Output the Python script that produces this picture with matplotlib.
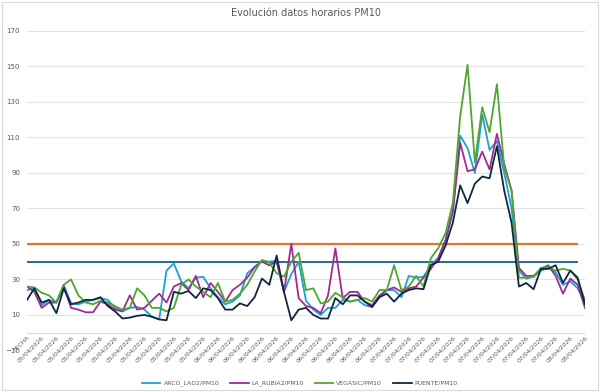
import numpy as np
import matplotlib.pyplot as plt
from matplotlib.patches import Rectangle

# valores horarios PM10
arco = [24, 25, 15.5, 18.5, 17, 27, 16.5, 16, 17.5, 18.5, 19.5, 18.5, 14, 12, 14, 14.5, 13, 9, 7.5, 35,
        39, 29, 25, 31, 31.5, 25, 20, 16, 17.5, 21, 33.5, 37, 40.5, 40, 40.5, 23, 33, 40, 18, 13,
        10, 14, 14, 18.5, 17.5, 18.5, 15.5, 14.5, 20, 24, 24, 20, 32, 31, 31.5, 38, 42, 52, 69, 111,
        104, 90, 123, 103, 108, 90, 70, 35, 30.5, 31.5, 35, 36.5, 34, 27, 29, 25, 17]
rubia = [26, 23, 14, 17, 17, 26, 14, 13, 11.5, 11.5, 17.5, 16, 13, 12, 21, 13, 14, 18, 22, 17,
         26, 28, 24, 32, 20, 28, 23, 17.5, 24, 27, 31, 37, 40, 38, 40, 23, 50, 19.5, 15, 14,
         11, 21, 47.5, 19.5, 23, 23, 17.5, 15.5, 21, 24, 25.5, 23, 25, 26, 31, 36, 42, 52, 68, 107,
         91, 92, 102, 92, 112, 95, 80, 36.5, 32, 32, 36, 38, 32, 22, 30.5, 27, 14]
vegasic = [26, 25.5, 22.5, 21, 17, 27, 30, 21, 17, 16, 18, 17, 15, 13, 14, 25, 21, 14, 14, 12,
           14, 27, 30, 26, 23, 20, 28, 17.5, 18.5, 22, 27, 34.5, 41, 39.5, 33.5, 31.5, 40, 45, 24, 25,
           16.5, 17.5, 22.5, 20, 17.5, 18.5, 19.5, 17.5, 24, 24, 38, 24, 26, 32, 26, 42, 47.5, 56, 73, 122,
           151, 96, 127, 113, 140, 93, 80, 31, 31, 31.5, 36.5, 37, 35, 36, 35, 30, 18]
puente = [18.5, 25, 17, 18.5, 11, 25, 16, 17, 18.5, 18.5, 20, 15, 12, 8, 8.5, 9.5, 10, 9, 7.5, 7,
          23, 22, 23.5, 19.5, 25, 24, 19.5, 13, 13, 16.5, 15, 20, 30.5, 27, 43.5, 23, 7, 13, 14, 10,
          8, 8, 19.5, 16, 21, 21, 17.5, 14.5, 20, 22, 17.5, 22, 24, 25, 24.5, 38, 40, 49, 62, 83,
          73, 84, 88, 87, 105, 80, 62, 26, 28, 24.5, 36, 36, 38, 28, 35, 31, 16]

# categorías del eje X
fechas = (["FECHA"] + ["05/04/2026"] * 24 + ["06/04/2026"] * 24
          + ["07/04/2026"] * 24 + ["08/04/2026"] * 4)
limite_50 = 50
limite_40 = 40

series = [
    ("ARCO_LAD2/PM10", arco, "#1ba1d6"),
    ("LA_RUBIA2/PM10", rubia, "#a02b93"),
    ("VEGASIC/PM10", vegasic, "#4ea72e"),
    ("PUENTE/PM10", puente, "#0e2841"),
]

x = np.arange(len(fechas))

fig = plt.figure(figsize=(6, 3.92), dpi=100)
fig.patches.append(Rectangle((0.003, 0.004), 0.994, 0.992, transform=fig.transFigure,
                             fill=False, edgecolor="#d9d9d9", linewidth=0.8))
ax = fig.add_axes([0.045, 0.106, 0.93, 0.815])

for yv in range(-10, 171, 20):
    ax.axhline(yv, color="#e3e3e3", linewidth=0.8, zorder=0)
ax.axhline(0, color="#d9d9d9", linewidth=0.8, zorder=0)

ax.hlines(limite_50, x[0], x[-2], color="#e97132", linewidth=1.6, zorder=2)
ax.hlines(limite_40, x[0], x[-2], color="#156082", linewidth=1.3, zorder=2)

for nombre, vals, col in series:
    ax.plot(x, vals, color=col, linewidth=1.3, label=nombre, zorder=3)

ax.set_xlim(x[0], x[-1])
ax.set_ylim(-10, 170)
ax.set_yticks(range(-10, 171, 20))
ax.tick_params(axis="y", length=0, labelsize=5, labelcolor="#595959", pad=5)
ax.set_xticks(x[::2])
ax.set_xticklabels(fechas[::2], rotation=45, ha="right", va="top",
                   rotation_mode="anchor", fontsize=4.4, color="#595959")
ax.tick_params(axis="x", length=0, pad=-11)
for s in ax.spines.values():
    s.set_visible(False)

ax.set_title("Evolución datos horarios PM10", fontsize=7, color="#595959", pad=11)
fig.legend(loc="lower center", bbox_to_anchor=(0.5, 0.0), ncol=4, frameon=False,
           fontsize=4.4, labelcolor="#595959", handlelength=3.0, handletextpad=0.5,
           columnspacing=1.8)

fig.savefig("out.png", dpi=100)
